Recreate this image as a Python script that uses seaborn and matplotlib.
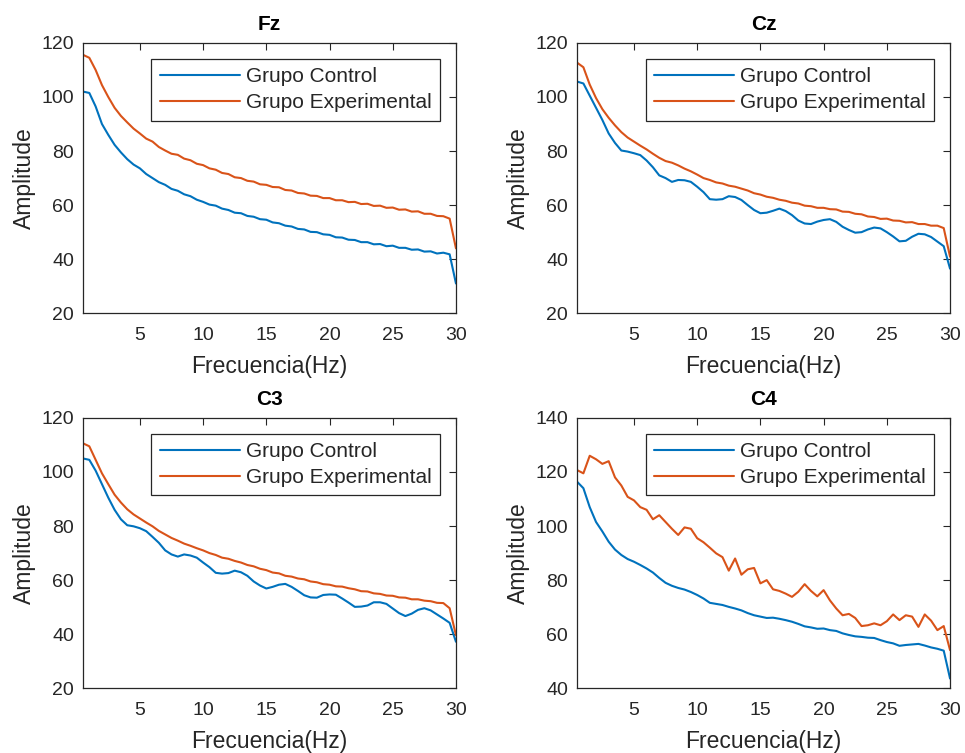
import numpy as np
import pandas as pd
import matplotlib
matplotlib.use("Agg")
import matplotlib.pyplot as plt
import seaborn as sns

# frequency grid (Hz)
freq = np.arange(1, 61) * 0.5

fz_control = [102, 101.5, 96.5, 90, 86, 82.3, 79.5, 77, 75, 73.6,
              71.5, 70, 68.5, 67.5, 66, 65.3, 64, 63.3, 62, 61.2,
              60.2, 59.8, 58.7, 58.2, 57.2, 57, 56, 55.7, 54.8, 54.6,
              53.6, 53.3, 52.4, 52.1, 51.2, 51, 50.1, 50, 49.2, 49,
              48.1, 48, 47.2, 47.1, 46.3, 46.3, 45.5, 45.6, 44.8, 45,
              44.2, 44.2, 43.5, 43.6, 42.8, 42.9, 42.1, 42.4, 41.8, 31]
fz_exp = [115.6, 114.5, 110, 104.4, 100, 96, 93, 90.6, 88.3, 86.5,
          84.6, 83.5, 81.5, 80.2, 79, 78.6, 77.2, 76.6, 75.3, 74.8,
          73.6, 73.1, 71.9, 71.5, 70.3, 70, 69, 68.7, 67.7, 67.5,
          66.7, 66.6, 65.6, 65.4, 64.5, 64.3, 63.5, 63.4, 62.6, 62.6,
          61.8, 61.8, 61.1, 61.2, 60.4, 60.5, 59.7, 59.8, 59, 59.1,
          58.3, 58.4, 57.6, 57.7, 56.8, 56.8, 56, 55.9, 55, 44]

cz_control = [105.7, 105, 100.5, 96, 91.5, 86.5, 83, 80.2, 79.8, 79.2,
              78.5, 76.5, 74, 71, 70, 68.6, 69.3, 69.2, 68.6, 66.8,
              64.8, 62.2, 62, 62.2, 63.3, 63, 61.9, 60, 58.2, 57,
              57.2, 57.9, 58.7, 57.8, 56.3, 54.3, 53.2, 53, 53.9, 54.5,
              54.8, 53.8, 52, 50.8, 49.8, 50, 51, 51.7, 51.4, 50,
              48.4, 46.6, 46.8, 48.3, 49.4, 49.2, 48.2, 46.5, 44.8, 36.5]
cz_exp = [112.7, 111, 104.6, 99.6, 95.5, 92.3, 89.5, 87, 85, 83.5,
          82, 80.6, 79, 77.5, 76.3, 75.7, 74.7, 73.5, 72.5, 71.3,
          70, 69.3, 68.4, 68, 67.2, 66.8, 66.1, 65.4, 64.4, 63.9,
          63.1, 62.7, 62, 61.6, 60.9, 60.6, 59.8, 59.6, 59, 59,
          58.5, 58.4, 57.6, 57.5, 56.8, 56.6, 55.8, 55.6, 54.9, 55,
          54.3, 54.2, 53.6, 53.7, 53, 53, 52.4, 52.4, 51.5, 40.9]

c3_control = [105, 104.5, 100.5, 95.5, 90.5, 86, 82.5, 80.3, 79.9, 79.2,
              78.1, 76, 73.8, 71, 69.5, 68.7, 69.5, 69.1, 68.3, 66.5,
              64.8, 62.7, 62.4, 62.6, 63.5, 62.9, 61.6, 59.5, 58, 56.9,
              57.5, 58.3, 58.6, 57.5, 56, 54.4, 53.6, 53.5, 54.5, 54.7,
              54.6, 53.2, 51.7, 50.1, 50.2, 50.6, 51.8, 51.8, 51.2, 49.5,
              47.8, 46.7, 47.6, 49, 49.6, 48.8, 47.3, 45.8, 44.2, 37.2]
c3_exp = [110.6, 109.5, 104.5, 99.5, 95.5, 91.6, 88.7, 86.2, 84.3, 82.8,
          81.3, 79.9, 78.2, 76.9, 75.6, 74.6, 73.5, 72.7, 71.8, 71,
          70, 69.3, 68.3, 67.9, 67.1, 66.5, 65.6, 65.1, 64.2, 63.7,
          62.8, 62.5, 61.6, 61.3, 60.6, 60.3, 59.5, 59.2, 58.5, 58.3,
          57.7, 57.6, 57, 56.6, 55.9, 55.8, 55.1, 54.9, 54.3, 54.2,
          53.6, 53.5, 52.9, 52.9, 52.4, 52.2, 51.6, 51.5, 49.6, 39.6]

c4_control = [116.4, 114, 107, 101.5, 98, 94.2, 91.3, 89.3, 87.8, 86.8,
              85.6, 84.3, 82.8, 80.8, 79, 77.9, 77.1, 76.5, 75.6, 74.5,
              73.2, 71.6, 71.2, 70.8, 70.1, 69.5, 68.8, 67.8, 67, 66.5,
              66, 66.1, 65.7, 65.2, 64.6, 63.8, 62.9, 62.5, 62, 62.1,
              61.5, 61.2, 60.3, 59.7, 59.2, 59, 58.7, 58.6, 57.8, 57.1,
              56.6, 55.7, 56, 56.2, 56.4, 55.8, 55.1, 54.6, 53.9, 43.6]
c4_exp = [120.7, 119.5, 126, 124.7, 123, 124, 118, 115, 110.8, 109.5,
          107, 106, 102.5, 104, 101.5, 99, 96.7, 99.5, 99, 95.5,
          94, 92, 89.9, 88.5, 83.5, 88, 82, 84, 84.5, 78.8,
          80, 76.6, 76, 75, 73.8, 75.7, 78.5, 76, 74, 76.3,
          72.5, 69.5, 67, 67.5, 66, 63, 63.3, 64, 63.3, 64.8,
          67.3, 65.2, 67, 66.5, 62.7, 67.3, 65, 61.5, 63, 54.1]

panels = ["Fz", "Cz", "C3", "C4"]
control = [fz_control, cz_control, c3_control, c4_control]
experimental = [fz_exp, cz_exp, c3_exp, c4_exp]
ylims = [(20, 120), (20, 120), (20, 120), (40, 140)]
xticks = [5, 10, 15, 20, 25, 30]

sns.set_style("white")
plt.rcParams["font.family"] = ["Liberation Sans", "DejaVu Sans"]

blue = "#0072BD"
orange = "#D95319"
edge = "#262626"

fig = plt.figure(figsize=(9.65, 7.53), dpi=100)
positions = [(0.086, 0.584, 0.3865, 0.359), (0.598, 0.584, 0.3865, 0.359),
             (0.086, 0.086, 0.3865, 0.359), (0.598, 0.086, 0.3865, 0.359)]

for i, name in enumerate(panels):
    ax = fig.add_axes(positions[i])
    df = pd.DataFrame({"freq": freq, "Grupo Control": control[i],
                       "Grupo Experimental": experimental[i]})
    sns.lineplot(data=df, x="freq", y="Grupo Control", ax=ax, color=blue,
                 lw=1.5, label="Grupo Control")
    sns.lineplot(data=df, x="freq", y="Grupo Experimental", ax=ax, color=orange,
                 lw=1.5, label="Grupo Experimental")
    ax.set_xlim(0.5, 30)
    ax.set_ylim(*ylims[i])
    ax.set_xticks(xticks)
    ax.set_yticks(np.arange(ylims[i][0], ylims[i][1] + 1, 20))
    ax.tick_params(direction="in", length=5, width=0.8, colors=edge,
                   labelsize=14, labelcolor=edge, top=True, right=True)
    ax.tick_params(axis="x", pad=10)
    ax.tick_params(axis="y", pad=6.5)
    for s in ax.spines.values():
        s.set_color(edge)
        s.set_linewidth(0.9)
    ax.set_xlabel("Frecuencia(Hz)", fontsize=16.5, color=edge, labelpad=7.5)
    ax.set_ylabel("Amplitude", fontsize=16.5, color=edge, labelpad=4)
    ax.set_title(name, fontsize=15, fontweight="bold", color="black", pad=9.5)
    leg = ax.legend(loc="upper right", fontsize=15, frameon=True, fancybox=False,
                    edgecolor=edge, borderaxespad=0.75, handlelength=3.85,
                    handletextpad=0.3, borderpad=0.4, labelspacing=0.35)
    leg.get_frame().set_linewidth(0.9)
    leg.get_frame().set_alpha(1)

fig.savefig("out.png", dpi=100)
